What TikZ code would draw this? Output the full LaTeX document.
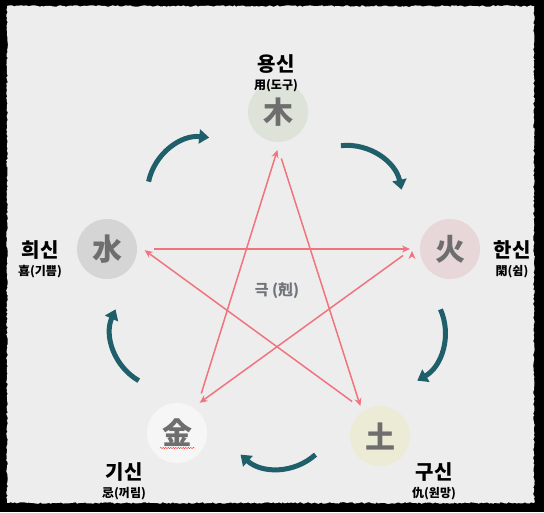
\documentclass[tikz,border=0pt]{standalone}
\usepackage{fontspec}
\setmainfont{Noto Sans CJK KR}
\usetikzlibrary{arrows.meta,decorations.pathmorphing}
\definecolor{paper}{RGB}{237,237,237}
\definecolor{woodfill}{RGB}{221,227,217}
\definecolor{firefill}{RGB}{232,215,216}
\definecolor{earthfill}{RGB}{236,235,213}
\definecolor{metalfill}{RGB}{246,246,246}
\definecolor{waterfill}{RGB}{213,213,213}
\definecolor{elemgray}{RGB}{110,110,110}
\definecolor{kered}{RGB}{240,116,126}
\definecolor{sangteal}{RGB}{30,95,106}
\definecolor{kegray}{RGB}{112,116,122}
\begin{document}
\begin{tikzpicture}[x=1pt, y=-1pt, node distance=22pt,
    elem/.style={circle, minimum size=60pt, inner sep=0pt, text=elemgray, font=\fontsize{30}{30}\selectfont\bfseries},
    godname/.style={inner sep=0pt, font=\fontsize{20}{20}\selectfont\bfseries},
    godsub/.style={inner sep=0pt, font=\fontsize{12}{12}\selectfont\bfseries},
    ke/.style={draw=kered, line width=1.5pt, -{Stealth[length=8pt,width=7pt]}, shorten <=11pt, shorten >=2pt},
    saeng/.style={draw=sangteal, line width=5pt, -{Triangle[length=10pt,width=14pt]}}]
  \useasboundingbox (0,0) rectangle (544,512);
  \fill[black] (0,0) rectangle (544,512);
  \fill[paper, decorate, decoration={random steps, segment length=2pt, amplitude=0.8pt}] (7,6) rectangle (534,503);

  % elements
  \node[elem, fill=woodfill] (wood) at (278,112) {木};
  \node[elem, fill=firefill] (fire) at (450,249) {火};
  \node[elem, fill=earthfill] (earth) at (380,436) {土};
  \node[elem, fill=metalfill] (metal) at (177,433) {金};
  \node[elem, fill=waterfill] (water) at (107,249) {水};
  \coordinate (ctr) at (278,296);

  % star points
  \coordinate (kwood) at (278,148);
  \coordinate (kfire) at (412,249);
  \coordinate (kearth) at (361,408);
  \coordinate (kmetal) at (198,404);
  \coordinate (kwater) at (143,249);

  % labels
  \node[godname] (yong) at (276,64) {용신};
  \node[godsub, below of=yong] (yongsub) {用(도구)};
  \node[godname] (hui) at (40,250) {희신};
  \node[godsub, below of=hui] (huisub) {喜(기쁨)};
  \node[godname] (han) at (512,250) {한신};
  \node[godsub, below of=han] (hansub) {閑(쉼)};
  \node[godname] (gi) at (124,472) {기신};
  \node[godsub, below of=gi] (gisub) {忌(꺼림)};
  \node[godname] (gu) at (434,472) {구신};
  \node[godsub, below of=gu] (gusub) {仇(원망)};
  \node[inner sep=0pt, text=kegray, font=\fontsize{15}{15}\selectfont\bfseries] (ketxt) at (277,291) {극 (剋)};

  % star
  \path[ke]
  (kmetal) edge (kwood)
  (kwood) edge (kearth)
  (kearth) edge (kwater)
  (kwater) edge (kfire)
  (kfire) edge (kmetal);

  % cycle
  \foreach \p/\d [evaluate=\p as \t using -\p, evaluate=\p as \s using -\p-42, evaluate=\p as \e using -\p+42]
    in {126/127, 54/117, -18/117, -90/117, -162/117}
    \draw[saeng] (ctr) ++(\t:\d) ++(\s:56) arc[start angle=\s, end angle=\e, radius=56];

  \draw[red!80, decorate, decoration={snake, amplitude=0.7pt, segment length=2.5pt}]
  ([xshift=-17pt, yshift=-15pt]metal.center) -- ([xshift=18pt, yshift=-15pt]metal.center);
\end{tikzpicture}
\end{document}
